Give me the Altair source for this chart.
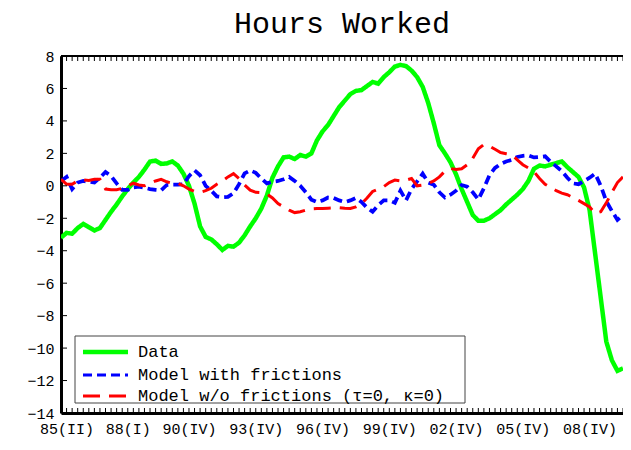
import altair as alt
import pandas as pd

FONT = "Liberation Mono"

# quarter index 0 = 1985Q1
data_hours = [-3.2, -2.9, -2.95, -2.6, -2.35, -2.55, -2.75, -2.6, -2.1, -1.6,
              -1.15, -0.65, -0.2, 0.2, 0.55, 1.0, 1.5, 1.55, 1.35, 1.38,
              1.5, 1.25, 0.75, 0.0, -1.1, -2.5, -3.15, -3.3, -3.6, -3.95,
              -3.7, -3.75, -3.5, -3.05, -2.5, -2.0, -1.4, -0.6, 0.5, 1.2,
              1.75, 1.8, 1.65, 1.9, 1.8, 2.0, 2.8, 3.35, 3.75, 4.3,
              4.85, 5.25, 5.65, 5.85, 5.9, 6.15, 6.4, 6.3, 6.7, 7.0,
              7.35, 7.45, 7.38, 7.1, 6.7, 6.1, 5.1, 3.85, 2.5, 2.0,
              1.45, 0.7, -0.2, -1.0, -1.8, -2.15, -2.15, -2.0, -1.75, -1.5,
              -1.15, -0.85, -0.55, -0.2, 0.3, 1.05, 1.25, 1.2, 1.3, 1.4,
              1.5, 1.15, 0.85, 0.55, -0.1, -1.5, -4.2, -6.9, -9.6, -10.75,
              -11.4, -11.25]

model_fric = [0.3, 0.55, -0.2, 0.2, 0.3, 0.25, 0.2, 0.5, 0.85, 0.6,
              0.15, -0.25, -0.25, -0.1, -0.05, -0.12, -0.2, -0.25, -0.28, 0.05,
              0.07, 0.07, 0.1, 0.6, 0.95, 0.65, 0.0, -0.3, -0.65, -0.7,
              -0.68, -0.45, 0.1, 0.77, 0.95, 0.8, 0.45, 0.15, 0.25, 0.3,
              0.4, 0.55, 0.3, 0.0, -0.4, -0.85, -1.0, -0.9, -0.72, -0.75,
              -0.9, -1.0, -0.9, -0.75, -1.0, -1.35, -1.6, -1.2, -0.9, -0.9,
              -1.05, -0.3, -0.9, -0.2, 0.27, 0.75, 0.2, 0.07, -0.4, -0.72,
              -0.55, -0.3, 0.05, -0.05, -0.4, -0.85, -0.15, 0.65, 1.1, 1.35,
              1.5, 1.6, 1.78, 1.85, 1.88, 1.75, 1.78, 1.82, 1.47, 1.2,
              0.9, 0.5, 0.15, 0.1, 0.3, 0.5, 0.75, 0.0, -0.95, -1.55,
              -2.1, -1.8]

model_nofric = [0.4, 0.1, 0.1, 0.3, 0.37, 0.33, 0.4, 0.4, -0.2, -0.24,
                -0.24, -0.16, 0.0, 0.16, 0.05, 0.0, 0.15, 0.3, 0.4, 0.25,
                0.16, 0.16, 0.0, -0.2, -0.35, -0.4, -0.3, -0.15, 0.1, 0.3,
                0.55, 0.75, 0.45, 0.05, -0.27, -0.4, -0.42, -0.5, -0.75, -1.1,
                -1.3, -1.5, -1.65, -1.6, -1.5, -1.42, -1.4, -1.4, -1.38, -1.36,
                -1.35, -1.38, -1.4, -1.3, -1.1, -0.75, -0.35, -0.2, -0.05, 0.2,
                0.35, 0.3, 0.35, 0.45, 0.0, 0.05, 0.15, 0.3, 0.55, 0.9,
                1.07, 1.0, 1.05, 1.3, 1.7, 2.28, 2.55, 2.45, 2.25, 2.05,
                1.98, 1.92, 1.6, 1.3, 1.1, 0.87, 0.45, 0.1, -0.1, -0.3,
                -0.45, -0.55, -0.72, -0.9, -1.1, -1.3, -1.7, -1.6, -1.05, -0.4,
                0.2, 0.55]

series_names = ["Data", "Model with frictions", "Model w/o frictions (\u03c4=0, \u03ba=0)"]
series_colors = ["#00ff00", "#0000ff", "#ff0000"]
series_dash = [[1, 0], [9, 5], [17, 9]]
series_width = [4.5, 3, 3]

tick_pos = [1, 12, 23, 35, 47, 59, 71, 83, 95]
tick_lab = ["85(II)", "88(I)", "90(IV)", "93(IV)", "96(IV)", "99(IV)", "02(IV)", "05(IV)", "08(IV)"]
y_ticks = list(range(-14, 9, 2))

W, H = 562, 357
XMAX = 101

rows = []
for name, vals in zip(series_names, [data_hours, model_fric, model_nofric]):
    for i, v in enumerate(vals):
        rows.append({"q": i, "v": v, "series": name})
df = pd.DataFrame(rows)

label_expr = " : ".join(f"datum.value == {p} ? '{l}'" for p, l in zip(tick_pos, tick_lab)) + " : ''"
ylabel_expr = "replace(format(datum.value, 'd'), '-', '\u2212')"

xscale = alt.Scale(domain=[0, XMAX], nice=False, zero=False)
yscale = alt.Scale(domain=[-14, 8], nice=False, zero=False)

xaxis = alt.Axis(values=tick_pos, labelExpr=label_expr, ticks=False, grid=False,
                 domainWidth=3, domainColor="black", labelFont=FONT,
                 labelFontSize=15, labelColor="black", labelPadding=8,
                 title=None, labelFlush=False, labelOverlap=False)
yaxis = alt.Axis(values=y_ticks, labelExpr=ylabel_expr, ticks=False, grid=False,
                 domainWidth=3, domainColor="black", labelFont=FONT,
                 labelFontSize=15, labelColor="black", labelPadding=7,
                 title=None, labelFlush=False, labelOverlap=False)


def X():
    return alt.X("q:Q", scale=xscale, axis=xaxis)


def Y():
    return alt.Y("v:Q", scale=yscale, axis=yaxis)


lines = alt.Chart(df).mark_line(clip=True).encode(
    x=X(), y=Y(),
    color=alt.Color("series:N", scale=alt.Scale(domain=series_names, range=series_colors), legend=None),
    strokeDash=alt.StrokeDash("series:N", scale=alt.Scale(domain=series_names, range=series_dash), legend=None),
    strokeWidth=alt.StrokeWidth("series:N", scale=alt.Scale(domain=series_names, range=series_width), legend=None),
    order=alt.Order("q:Q"),
)

qdf = pd.DataFrame({"q": list(range(0, XMAX + 1))})
top_ticks = alt.Chart(qdf).mark_rule(color="black", strokeWidth=1).encode(
    x=X(), y=alt.value(0), y2=alt.value(5))
bot_ticks = alt.Chart(qdf).mark_rule(color="black", strokeWidth=1).encode(
    x=X(), y=alt.value(H - 5), y2=alt.value(H))

ydf = pd.DataFrame({"v": y_ticks})
left_ticks = alt.Chart(ydf).mark_rule(color="black", strokeWidth=1).encode(
    y=Y(), x=alt.value(0), x2=alt.value(6))

one = pd.DataFrame({"k": [0]})
top_border = alt.Chart(one).mark_rule(color="black", strokeWidth=2).encode(
    x=alt.value(0), x2=alt.value(W), y=alt.value(0))

# legend (drawn as decoration inside the plot area)
LX0, LX1, LY0, LY1 = 14, 404, 280, 347
row_y = [296, 319, 340]
leg_layers = [
    alt.Chart(one).mark_rect(fill="white", stroke="#444444", strokeWidth=1).encode(
        x=alt.value(LX0), x2=alt.value(LX1), y=alt.value(LY0), y2=alt.value(LY1))
]
for name, col, dash, sw, ry in zip(series_names, series_colors, series_dash, series_width, row_y):
    leg_layers.append(
        alt.Chart(one).mark_rule(color=col, strokeDash=dash, strokeWidth=sw).encode(
            x=alt.value(22), x2=alt.value(67), y=alt.value(ry)))
    leg_layers.append(
        alt.Chart(one).mark_text(font=FONT, fontSize=17, fontWeight="normal", align="left",
                                 baseline="middle", color="black", text=name).encode(
            x=alt.value(77), y=alt.value(ry)))

chart = alt.layer(lines, top_ticks, bot_ticks, left_ticks, top_border, *leg_layers).properties(
    width=W, height=H,
    title=alt.TitleParams("Hours Worked", font=FONT, fontSize=30, fontWeight="normal",
                          color="black", anchor="middle", offset=10),
    autosize=alt.AutoSizeParams(type="none"),
    padding={"left": 53, "top": 48, "right": 0, "bottom": 27},
).configure_view(stroke=None).configure(background="white")

chart.save("out.html", embed_options={"renderer": "svg", "actions": False})
